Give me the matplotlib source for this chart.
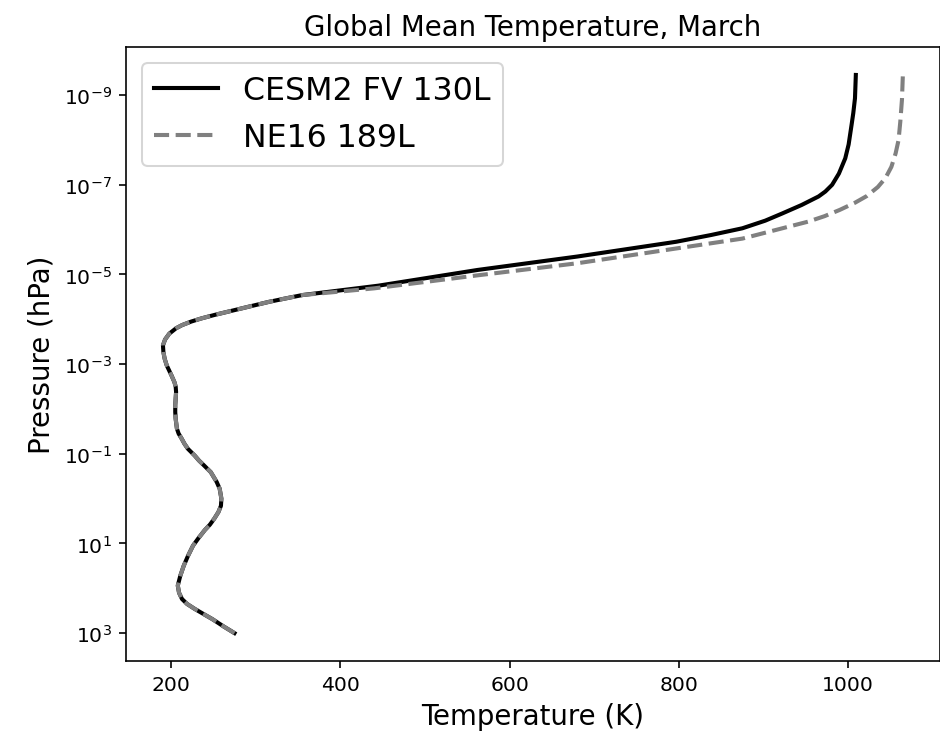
import numpy as np
import matplotlib
matplotlib.use("Agg")
import matplotlib.pyplot as plt
from matplotlib.ticker import NullLocator

# log10(pressure [hPa]) and temperature [K], surface upward.
# below ~1e-4.5 hPa the two runs are the same profile
logp_low = [3.00, 2.85, 2.69, 2.57, 2.46, 2.35, 2.24, 2.10, 1.94, 1.72,
            1.50, 1.28, 1.05, 0.88, 0.70, 0.58, 0.45, 0.30, 0.16, 0.00,
            -0.22, -0.37, -0.59, -0.74, -0.85, -0.96, -1.11, -1.22, -1.34,
            -1.45, -1.56, -1.78, -1.93, -2.08, -2.23, -2.38, -2.50, -2.60,
            -2.75, -2.97, -3.12, -3.27, -3.42, -3.55, -3.68, -3.80, -3.87,
            -3.95, -4.02, -4.10, -4.20, -4.30, -4.39, -4.46, -4.54]
t_low = [275, 262, 249, 238, 228, 219, 213, 209.5, 208, 211,
         215, 220, 226, 232.5, 240, 246, 251, 256, 259, 259.5,
         257.5, 254, 247, 239, 233, 228, 220, 216, 212.5,
         209, 207, 205.5, 205, 205, 205.5, 206, 205.5, 204,
         200.5, 195, 192.5, 191, 190.5, 193, 198, 206, 213,
         224, 236, 252, 274, 296, 316, 334, 355]

# thermosphere, CESM2 FV 130L
logp_fv_top = [-4.75, -5.10, -5.40, -5.73, -5.88, -6.03, -6.20, -6.36,
               -6.55, -6.74, -6.85, -7.00, -7.25, -7.59, -7.90, -8.34,
               -8.60, -8.93, -9.45]
t_fv_top = [445, 562, 680, 797, 838, 875, 902, 922,
            945, 965, 973, 981, 989, 996.5, 1000.5, 1004,
            1006, 1008, 1009]

# thermosphere, NE16 189L
logp_se_top = [-4.69, -4.98, -5.25, -5.58, -5.80, -5.99, -6.18, -6.30,
               -6.44, -6.60, -6.75, -6.95, -7.15, -7.40, -7.70, -8.00,
               -8.40, -8.90, -9.42]
t_se_top = [440, 562, 680, 797, 875, 914, 953, 972,
            990, 1008, 1022, 1035, 1044, 1051, 1056, 1059.5,
            1061.5, 1063.5, 1064.5]

p_fv = 10.0 ** np.array(logp_low + logp_fv_top)
t_fv = np.array(t_low + t_fv_top)
p_se = 10.0 ** np.array(logp_low + logp_se_top)
t_se = np.array(t_low + t_se_top)

fig, ax = plt.subplots(figsize=(6.4, 5.02), dpi=147)
fig.subplots_adjust(left=126 / 941, right=940 / 941,
                    bottom=(738 - 662) / 738, top=(738 - 48) / 738)

ax.plot(t_fv, p_fv, color="k", lw=2, label="CESM2 FV 130L")
ax.plot(t_se, p_se, color="gray", ls="--", lw=2, label="NE16 189L")

ax.set_yscale("log")
ax.invert_yaxis()
ax.set_yticks(10.0 ** np.arange(-9, 4, 2))
ax.yaxis.set_minor_locator(NullLocator())

ax.set_xlabel("Temperature (K)", fontsize=13.5)
ax.set_ylabel("Pressure (hPa)", fontsize=13.5)
ax.set_title("Global Mean Temperature, March", fontsize=13.5)
ax.legend(loc="upper left", fontsize=15.5)

fig.savefig("out.png", dpi=147)
